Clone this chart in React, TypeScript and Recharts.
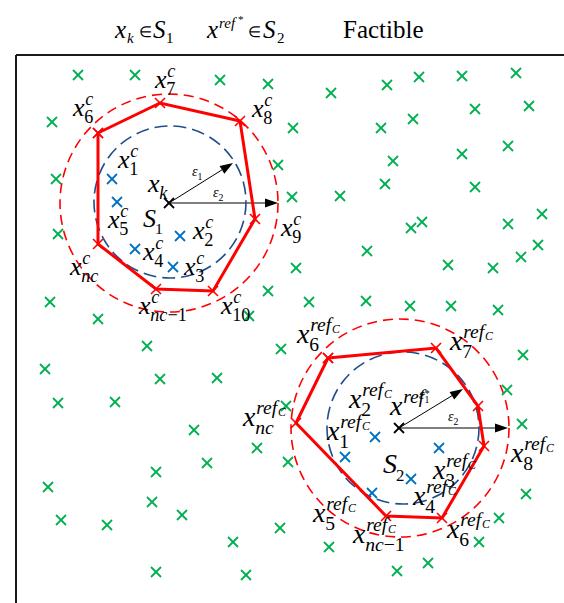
import React from 'react';
import { ScatterChart, Scatter, XAxis, YAxis, ReferenceLine } from 'recharts';

// everything is in page pixels: x to the right, y downwards
const greenPoints = [
  { x: 78, y: 75 }, { x: 135, y: 75 }, { x: 220, y: 80 }, { x: 268, y: 84 }, { x: 52, y: 122 },
  { x: 293, y: 128 }, { x: 278, y: 165 }, { x: 56, y: 179 }, { x: 292, y: 197 }, { x: 58, y: 234 },
  { x: 296, y: 268 }, { x: 268, y: 291 }, { x: 50, y: 302 }, { x: 98, y: 319 }, { x: 249, y: 316 },
  { x: 331, y: 93 }, { x: 387, y: 85 }, { x: 419, y: 77 }, { x: 462, y: 76 }, { x: 516, y: 73 },
  { x: 381, y: 128 }, { x: 413, y: 119 }, { x: 475, y: 109 }, { x: 529, y: 106 }, { x: 393, y: 161 },
  { x: 462, y: 154 }, { x: 508, y: 146 }, { x: 340, y: 196 }, { x: 385, y: 184 }, { x: 475, y: 187 },
  { x: 411, y: 228 }, { x: 422, y: 222 }, { x: 508, y: 224 }, { x: 542, y: 214 }, { x: 367, y: 251 },
  { x: 448, y: 265 }, { x: 493, y: 268 }, { x: 521, y: 257 }, { x: 538, y: 245 }, { x: 309, y: 302 },
  { x: 366, y: 301 }, { x: 410, y: 306 }, { x: 451, y: 306 }, { x: 498, y: 310 },
  { x: 281, y: 349 }, { x: 523, y: 355 }, { x: 507, y: 390 }, { x: 286, y: 406 }, { x: 522, y: 424 },
  { x: 257, y: 448 }, { x: 288, y: 462 }, { x: 526, y: 494 }, { x: 499, y: 518 }, { x: 280, y: 528 },
  { x: 233, y: 542 }, { x: 329, y: 547 }, { x: 479, y: 542 }, { x: 428, y: 563 }, { x: 397, y: 571 },
  { x: 246, y: 575 }, { x: 147, y: 346 }, { x: 45, y: 369 }, { x: 160, y: 379 }, { x: 217, y: 378 },
  { x: 58, y: 403 }, { x: 115, y: 402 }, { x: 194, y: 430 }, { x: 207, y: 463 }, { x: 156, y: 472 },
  { x: 48, y: 487 }, { x: 152, y: 502 }, { x: 182, y: 515 }, { x: 61, y: 520 }, { x: 107, y: 525 },
  { x: 156, y: 572 },
];

const blueS1 = [{ x: 112, y: 179 }, { x: 117, y: 202 }, { x: 180, y: 236 }, { x: 135, y: 249 }, { x: 173, y: 267 }];
const blueS2 = [{ x: 375, y: 437 }, { x: 345, y: 457 }, { x: 439, y: 448 }, { x: 411, y: 479 }, { x: 372, y: 493 }];

const centers = [{ x: 169, y: 203 }, { x: 399, y: 428 }];

const polyS1 = [
  { x: 98, y: 133 }, { x: 160, y: 103 }, { x: 240, y: 121 }, { x: 255, y: 219 },
  { x: 213, y: 291 }, { x: 156, y: 289 }, { x: 98, y: 244 }, { x: 98, y: 133 },
];
const polyS2 = [
  { x: 328, y: 358 }, { x: 436, y: 348 }, { x: 478, y: 406 }, { x: 484, y: 446 },
  { x: 442, y: 518 }, { x: 386, y: 516 }, { x: 296, y: 423 }, { x: 328, y: 358 },
];

const outerCircles = [{ x: 169, y: 203, r: 109 }, { x: 400, y: 428, r: 109 }];
const innerCircles = [{ x: 170, y: 202, r: 76 }, { x: 403, y: 428, r: 76 }];

const arrows = [
  [{ x: 169, y: 203 }, { x: 233, y: 163 }],
  [{ x: 169, y: 203 }, { x: 278, y: 203 }],
  [{ x: 399, y: 428 }, { x: 463, y: 389 }],
  [{ x: 399, y: 428 }, { x: 508, y: 428 }],
];

const labelsS1 = [
  { x: 155, y: 88, main: 'x', sup: 'c', sub: '7' },
  { x: 73, y: 116, main: 'x', sup: 'c', sub: '6' },
  { x: 252, y: 117, main: 'x', sup: 'c', sub: '8' },
  { x: 118, y: 168, main: 'x', sup: 'c', sub: '1' },
  { x: 148, y: 192, main: 'x', sub: 'k' },
  { x: 108, y: 228, main: 'x', sup: 'c', sub: '5' },
  { x: 143, y: 227, main: 'S', sub: '1' },
  { x: 193, y: 239, main: 'x', sup: 'c', sub: '2' },
  { x: 281, y: 236, main: 'x', sup: 'c', sub: '9' },
  { x: 143, y: 260, main: 'x', sup: 'c', sub: '4' },
  { x: 184, y: 275, main: 'x', sup: 'c', sub: '3' },
  { x: 70, y: 275, main: 'x', sup: 'c', sub: 'nc' },
  { x: 139, y: 314, main: 'x', sup: 'c', sub: 'nc−1' },
  { x: 221, y: 314, main: 'x', sup: 'c', sub: '10' },
];

const labelsS2 = [
  { x: 297, y: 343, main: 'x', sup: 'ref', supSub: 'C', sub: '6' },
  { x: 450, y: 350, main: 'x', sup: 'ref', supSub: 'C', sub: '7' },
  { x: 243, y: 426, main: 'x', sup: 'ref', supSub: 'C', sub: 'nc' },
  { x: 349, y: 408, main: 'x', sup: 'ref', supSub: 'C', sub: '2' },
  { x: 390, y: 415, main: 'x', sup: 'ref*' },
  { x: 327, y: 440, main: 'x', sup: 'ref', supSub: 'C', sub: '1' },
  { x: 383, y: 473, main: 'S', sub: '2' },
  { x: 511, y: 462, main: 'x', sup: 'ref', supSub: 'C', sub: '8' },
  { x: 433, y: 479, main: 'x', sup: 'ref', supSub: 'C', sub: '3' },
  { x: 413, y: 505, main: 'x', sup: 'ref', supSub: 'C', sub: '4' },
  { x: 313, y: 522, main: 'x', sup: 'ref', supSub: 'C', sub: '5' },
  { x: 447, y: 538, main: 'x', sup: 'ref', supSub: 'C', sub: '6' },
  { x: 353, y: 543, main: 'x', sup: 'ref', supSub: 'C', sub: 'nc−1' },
];

const epsLabels = [
  { x: 192, y: 176, main: 'ε', sub: '1' },
  { x: 213, y: 197, main: 'ε', sub: '2' },
  { x: 419, y: 399, main: 'ε', sub: '1' },
  { x: 448, y: 421, main: 'ε', sub: '2' },
];

const titleAnchor = [{ x: 115, y: 38 }];

const FONT = "'Liberation Serif', 'Times New Roman', serif";

const cross = (color: string, s: number, w: number) => (props: any) => {
  const { cx, cy } = props;
  return (
    <g stroke={color} strokeWidth={w}>
      <line x1={cx - s} y1={cy - s} x2={cx + s} y2={cy + s} />
      <line x1={cx - s} y1={cy + s} x2={cx + s} y2={cy - s} />
    </g>
  );
};

const ring = (color: string, dash: string) => (props: any) => {
  const { cx, cy, payload } = props;
  return <circle cx={cx} cy={cy} r={payload.r} fill="none" stroke={color} strokeWidth={1.6} strokeDasharray={dash} />;
};

const mixed = (s: string) =>
  s.split(/([a-z]+)/).filter(Boolean).map((p, i) => (
    <tspan key={i} fontStyle={/[a-z]/.test(p) ? 'italic' : 'normal'}>{p}</tspan>
  ));

const mathLabel = (fs: number) => (props: any) => {
  const { cx, cy, payload } = props;
  const { main, sup, supSub, sub } = payload;
  const sm = main === 'S' ? fs * 0.6 : fs * 0.7;
  const w = main === 'S' ? fs * 0.5 : fs * 0.47;
  const star = sup === 'ref*';
  return (
    <g fontFamily={FONT} fill="#000">
      <text x={cx} y={cy} fontSize={fs} fontStyle="italic">{main}</text>
      {sup && (
        <text x={cx + w} y={cy - fs * 0.44} fontSize={sm} fontStyle="italic">{star ? 'ref' : sup}</text>
      )}
      {star && (
        <text x={cx + w + sm * 1.1} y={cy - fs * 0.64} fontSize={sm * 0.5}>*</text>
      )}
      {supSub && (
        <text x={cx + w + sm * 1.12} y={cy - fs * 0.34} fontSize={sm * 0.6} fontStyle="italic">{supSub}</text>
      )}
      {sub && (
        <text x={cx + w - 1} y={cy + fs * 0.27} fontSize={sm}>{mixed(sub)}</text>
      )}
    </g>
  );
};

const titleShape = (props: any) => {
  const { cx, cy } = props;
  return (
    <g fontFamily={FONT} fill="#000">
      <text x={cx} y={cy} fontSize={25} fontStyle="italic">x</text>
      <text x={cx + 12} y={cy + 5} fontSize={15} fontStyle="italic">k</text>
      <text x={cx + 24} y={cy - 1} fontSize={15}>∈</text>
      <text x={cx + 38} y={cy} fontSize={25} fontStyle="italic">S</text>
      <text x={cx + 51} y={cy + 5} fontSize={15}>1</text>
      <text x={cx + 92} y={cy} fontSize={25} fontStyle="italic">x</text>
      <text x={cx + 104} y={cy - 10} fontSize={15} fontStyle="italic">ref</text>
      <text x={cx + 123} y={cy - 15} fontSize={11}>*</text>
      <text x={cx + 133} y={cy - 1} fontSize={15}>∈</text>
      <text x={cx + 148} y={cy} fontSize={25} fontStyle="italic">S</text>
      <text x={cx + 162} y={cy + 5} fontSize={15}>2</text>
      <text x={cx + 228} y={cy} fontSize={25}>Factible</text>
    </g>
  );
};

const arrowShape = (p: any) => {
  const { x1, y1, x2, y2 } = p;
  const dx = x2 - x1;
  const dy = y2 - y1;
  const L = Math.hypot(dx, dy) || 1;
  const ux = dx / L;
  const uy = dy / L;
  const hl = 13;
  const hw = 4.5;
  const bx = x2 - ux * hl;
  const by = y2 - uy * hl;
  const pts = `${x2},${y2} ${bx - uy * hw},${by + ux * hw} ${bx + uy * hw},${by - ux * hw}`;
  return (
    <g>
      <line x1={x1} y1={y1} x2={bx} y2={by} stroke="#000" strokeWidth={1} />
      <polygon points={pts} fill="#000" />
    </g>
  );
};

export default function App() {
  return (
    <div style={{ position: 'absolute', left: 0, top: 0, background: '#fff' }}>
      <ScatterChart width={564} height={603} margin={{ top: 0, right: 0, bottom: 0, left: 0 }}>
        <XAxis type="number" dataKey="x" domain={[0, 564]} hide />
        <YAxis type="number" dataKey="y" domain={[0, 603]} reversed hide />
        <ReferenceLine segment={[{ x: 16, y: 55 }, { x: 564, y: 55 }]} stroke="#1a1a1a" strokeWidth={2} ifOverflow="visible" />
        <ReferenceLine segment={[{ x: 16, y: 55 }, { x: 16, y: 603 }]} stroke="#1a1a1a" strokeWidth={2} ifOverflow="visible" />
        <Scatter data={outerCircles} shape={ring('#FF0000', '10 6')} isAnimationActive={false} />
        <Scatter data={innerCircles} shape={ring('#1F4E8C', '13 6')} isAnimationActive={false} />
        <Scatter data={greenPoints} shape={cross('#00B050', 5, 1.8)} isAnimationActive={false} />
        <Scatter data={blueS1} shape={cross('#0070C0', 5, 1.8)} isAnimationActive={false} />
        <Scatter data={blueS2} shape={cross('#0070C0', 5, 1.8)} isAnimationActive={false} />
        <Scatter data={polyS1} fill="#FF0000" line={{ stroke: '#FF0000', strokeWidth: 3 }} shape={cross('#FF0000', 5, 1.6)} isAnimationActive={false} />
        <Scatter data={polyS2} fill="#FF0000" line={{ stroke: '#FF0000', strokeWidth: 3 }} shape={cross('#FF0000', 5, 1.6)} isAnimationActive={false} />
        <Scatter data={centers} shape={cross('#000', 5, 1.8)} isAnimationActive={false} />
        {arrows.map((seg, i) => (
          <ReferenceLine key={i} segment={seg} shape={arrowShape} ifOverflow="visible" />
        ))}
        <Scatter data={labelsS1} shape={mathLabel(26)} isAnimationActive={false} />
        <Scatter data={labelsS2} shape={mathLabel(28)} isAnimationActive={false} />
        <Scatter data={epsLabels} shape={mathLabel(14)} isAnimationActive={false} />
        <Scatter data={titleAnchor} shape={titleShape} isAnimationActive={false} />
      </ScatterChart>
    </div>
  );
}
